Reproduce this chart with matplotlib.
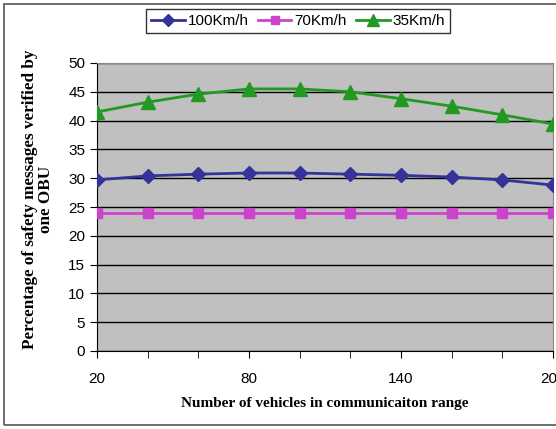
import matplotlib.pyplot as plt
from matplotlib.patches import Rectangle

vehicles = [20, 40, 60, 80, 100, 120, 140, 160, 180, 200]
speed_100 = [29.7, 30.4, 30.7, 30.9, 30.9, 30.7, 30.5, 30.2, 29.7, 28.8]
speed_70 = [24.0, 24.0, 24.0, 24.0, 24.0, 24.0, 24.0, 24.0, 24.0, 24.0]
speed_35 = [41.5, 43.2, 44.6, 45.5, 45.5, 45.0, 43.8, 42.5, 41.0, 39.4]
labels = ["100Km/h", "70Km/h", "35Km/h"]
xtick_labels = [20, 80, 140, 200]

fig = plt.figure(figsize=(5.56, 4.29), dpi=100)
fig.patch.set_facecolor("white")
# outer chart border
fig.add_artist(Rectangle((4 / 556, 4 / 429), 1.2, 421 / 429, transform=fig.transFigure,
                         fill=False, edgecolor="#555555", lw=1.2))

ax = fig.add_axes([97 / 556, 1 - 351 / 429, 456 / 556, 288 / 429])
ax.set_facecolor("#c0c0c0")

ax.plot(vehicles, speed_100, color="#333399", lw=2, marker="D", ms=7.5, label=labels[0], zorder=4)
ax.plot(vehicles, speed_70, color="#cc44cc", lw=2, marker="s", ms=7.5, label=labels[1], zorder=4)
ax.plot(vehicles, speed_35, color="#229922", lw=2, marker="^", ms=10, label=labels[2], zorder=4)

ax.set_xlim(20, 200)
ax.set_ylim(0, 50)
ax.set_yticks(range(0, 51, 5))
ax.set_xticks(vehicles, minor=True)
ax.set_xticks(xtick_labels)
ax.grid(axis="y", color="black", lw=1)
ax.set_axisbelow(True)

ax.tick_params(axis="both", which="both", direction="out", length=5, color="black",
               labelsize=11, labelfontfamily="Liberation Sans")
ax.tick_params(axis="x", pad=10)
for s in ["top", "right"]:
    ax.spines[s].set_color("#888888")
for s in ["left", "bottom"]:
    ax.spines[s].set_color("black")

ax.set_xlabel("Number of vehicles in communicaiton range", fontsize=11,
              fontweight="bold", family="Liberation Serif", labelpad=8)
ax.set_ylabel("Percentage of safety messages verified by\none OBU", fontsize=12.3,
              fontweight="bold", family="Liberation Serif", linespacing=1.0)
ax.yaxis.set_label_coords(-0.095, 0.528)

leg = fig.legend(loc="center", bbox_to_anchor=(298 / 556, 1 - 21 / 429), ncol=3,
                 frameon=True, fancybox=False, edgecolor="black", handlelength=2.2,
                 handletextpad=0.2, columnspacing=0.6, borderpad=0.35, markerscale=0.8,
                 prop={"family": "Liberation Sans", "size": 11})
leg.get_frame().set_linewidth(1)

fig.savefig("out.png", dpi=100)
